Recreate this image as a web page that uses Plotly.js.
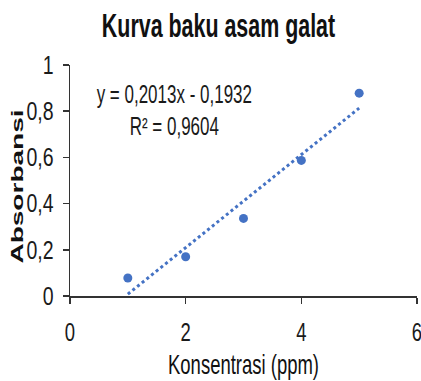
<!DOCTYPE html>
<html><head><meta charset="utf-8">
<script src="https://cdn.plot.ly/plotly-3.0.1.min.js"></script>
<style>html,body{margin:0;padding:0;background:#fff}#chart{width:421px;height:381px}</style>
</head><body><div id="chart"></div>
<script>
var konsentrasi = [1, 2, 3, 4, 5];
var absorbansi = [0.078, 0.17, 0.336, 0.587, 0.878];
var slope = 0.2013, intercept = -0.1932;
var trendX = [1, 5];
var trendY = trendX.map(function(x){ return slope * x + intercept; });
var xTicks = [0, 2, 4, 6];
var yTicks = [0, 0.2, 0.4, 0.6, 0.8, 1];
var sans = '"Liberation Sans", Arial, sans-serif';

var data = [
  {x: trendX, y: trendY, mode: 'lines', line: {color: '#4472C4', width: 3, dash: 'dot'}, cliponaxis: false, hoverinfo: 'skip'},
  {x: konsentrasi, y: absorbansi, mode: 'markers', marker: {color: '#4472C4', size: 9}, cliponaxis: false}
];
var layout = {
  width: 421, height: 381, showlegend: false, separators: ',.',
  paper_bgcolor: '#fff', plot_bgcolor: '#fff',
  margin: {l: 70, r: 4, t: 65, b: 85},
  font: {family: sans, color: '#1a1a1a', size: 19},
  title: {text: '<b>Kurva baku asam galat</b>', x: 0.5, xanchor: 'center', y: 0.935, yanchor: 'middle', font: {family: sans, size: 34, color: '#111'}},
  xaxis: {range: [0, 6], tickvals: xTicks, showgrid: false, zeroline: false, showline: true, linecolor: '#333', linewidth: 1.5,
    ticks: 'outside', ticklen: 6, tickcolor: '#333', tickwidth: 1.5, ticklabeloverflow: 'allow', ticklabelstandoff: 5,
    tickfont: {family: sans, size: 25, color: '#1a1a1a'},
    title: {text: 'Konsentrasi (ppm)', standoff: 4, font: {family: sans, size: 28, color: '#111'}}},
  yaxis: {range: [0, 1], tickvals: yTicks, showgrid: false, zeroline: false, showline: true, linecolor: '#333', linewidth: 1.5,
    ticks: 'outside', ticklen: 6, tickcolor: '#333', tickwidth: 1.5, ticklabelstandoff: 4,
    tickfont: {family: sans, size: 25, color: '#1a1a1a'},
    title: {text: '<b>Absorbansi</b>', standoff: 2, font: {family: sans, size: 16.5, color: '#111'}}},
  annotations: [
    {xref: 'paper', yref: 'paper', x: 0.302, y: 0.86, xanchor: 'center', yanchor: 'middle', showarrow: false,
     text: 'y = 0,2013x - 0,1932<br>R² = 0,9604', align: 'center', font: {family: sans, size: 25, color: '#1a1a1a'}}
  ]
};
function squeeze(gd, selector, sx, sy, dx, dy) {
  gd.querySelectorAll(selector).forEach(function(t){
    var x = parseFloat(t.getAttribute('x')) || 0, y = parseFloat(t.getAttribute('y')) || 0;
    var tr = t.getAttribute('transform') || '';
    t.setAttribute('transform', 'translate(' + (dx || 0) + ',' + (dy || 0) + ') ' + tr +
      ' translate(' + x + ',' + y + ') scale(' + sx + ',' + sy + ') translate(' + (-x) + ',' + (-y) + ')');
  });
}
Plotly.newPlot('chart', data, layout, {displayModeBar: false, staticPlot: true}).then(function(gd){
  squeeze(gd, '.gtitle', 0.63, 1, 8, 0);
  squeeze(gd, '.xtick text', 0.74, 1, 0, 3);
  squeeze(gd, '.ytick text', 0.78, 1, 0, 0);
  squeeze(gd, '.g-xtitle text', 0.66, 1, 0, 6);
  squeeze(gd, '.g-ytitle text', 1.7, 1, 8, 6);
  squeeze(gd, '.annotation-text', 0.68, 1, 0, 13);
});
</script></body></html>
